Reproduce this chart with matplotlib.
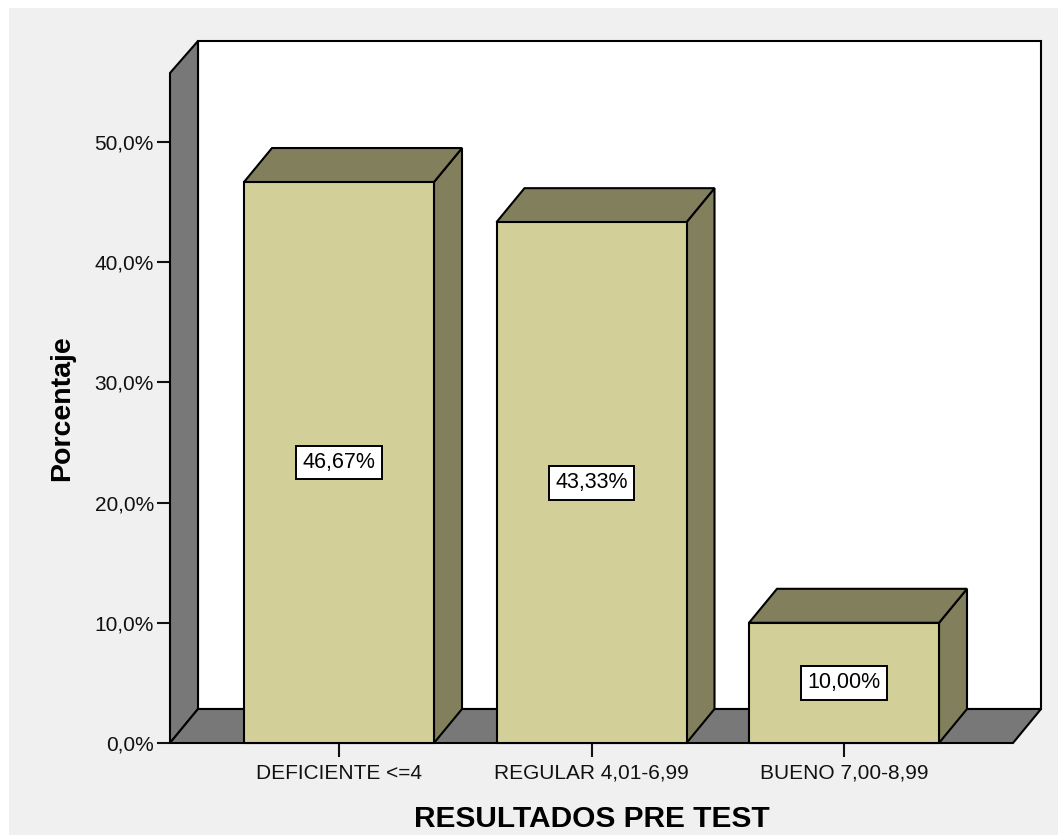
"""
SPSS style 3D bar chart: RESULTADOS PRE TEST
"""
import matplotlib
matplotlib.use("Agg")
import matplotlib.pyplot as plt
from matplotlib.patches import Polygon, Rectangle

plt.rcParams['font.family'] = ['Liberation Sans', 'DejaVu Sans']

# data
categories = ['DEFICIENTE <=4', 'REGULAR 4,01-6,99', 'BUENO 7,00-8,99']
percentages = [46.67, 43.33, 10.00]
y_ticks = [0, 10, 20, 30, 40, 50]
y_tick_labels = ['0,0%', '10,0%', '20,0%', '30,0%', '40,0%', '50,0%']

# colours
bg_gray = '#f0f0f0'
wall_gray = '#787878'
bar_front = '#d3cf98'
bar_shade = '#827f5c'

W, H = 1059, 835
fig = plt.figure(figsize=(W / 100, H / 100), dpi=100)
fig.patch.set_facecolor('white')
fig.add_artist(Rectangle((9 / W, -0.02), 1049 / W, 827 / H + 0.02, transform=fig.transFigure,
                         facecolor=bg_gray, edgecolor='none', zorder=-10))

# front plane of the axes in pixels
left_px, right_px, floor_px, top_px = 170, 1013, 743, 73
ax = fig.add_axes([left_px / W, (H - floor_px) / H,
                   (right_px - left_px) / W, (floor_px - top_px) / H])
ax.set_facecolor('none')

px_per_pct = (743 - 142) / 50.0
ymax = (floor_px - top_px) / px_per_pct
step_px = 252.5
x0 = (left_px - 339) / step_px
x1 = (right_px - 339) / step_px
ax.set_xlim(x0, x1)
ax.set_ylim(0, ymax)

# depth offset in data units
DX = 28 / step_px
DY = 34 / px_per_pct

lw = 1.5
kw = dict(edgecolor='black', linewidth=lw, joinstyle='miter', clip_on=False)

# back wall
ax.add_patch(Rectangle((x0 + DX, DY), x1 - x0, ymax - DY + 32 / px_per_pct,
                       facecolor='white', zorder=1, **kw))
# left wall
ax.add_patch(Polygon([(x0, 0), (x0, ymax), (x0 + DX, ymax + 32 / px_per_pct), (x0 + DX, DY)],
                     closed=True, facecolor=wall_gray, zorder=2, **kw))
# floor
ax.add_patch(Polygon([(x0, 0), (x1, 0), (x1 + DX, DY), (x0 + DX, DY)],
                     closed=True, facecolor=wall_gray, zorder=2, **kw))

bar_w = 190 / step_px
for i, v in enumerate(percentages):
    l, r = i - bar_w / 2, i + bar_w / 2
    ax.add_patch(Polygon([(r, 0), (r + DX, DY), (r + DX, v + DY), (r, v)],
                         closed=True, facecolor=bar_shade, zorder=3, **kw))
    ax.add_patch(Polygon([(l, v), (r, v), (r + DX, v + DY), (l + DX, v + DY)],
                         closed=True, facecolor=bar_shade, zorder=3, **kw))
    ax.add_patch(Rectangle((l, 0), bar_w, v, facecolor=bar_front, zorder=4, **kw))
    ax.text(i, v / 2, f'{v:.2f}%'.replace('.', ','), ha='center', va='center',
            fontsize=15.5, zorder=5,
            bbox=dict(boxstyle='square,pad=0.3', facecolor='white',
                      edgecolor='black', linewidth=1.4))

for s in ax.spines.values():
    s.set_visible(False)

ax.set_yticks(y_ticks)
ax.set_yticklabels(y_tick_labels)
ax.set_xticks(range(len(categories)))
ax.set_xticklabels(categories)
ax.tick_params(axis='y', length=9.5, width=1.5, pad=2, labelsize=15, colors='#111111')
ax.tick_params(axis='x', length=10, width=1.5, pad=5, labelsize=15, colors='#111111')

ax.set_ylabel('Porcentaje', fontsize=20.5, fontweight='bold', labelpad=14)
ax.set_xlabel('RESULTADOS PRE TEST', fontsize=21.5, fontweight='bold', labelpad=16)

fig.savefig('out.png', dpi=100, facecolor=fig.get_facecolor())
